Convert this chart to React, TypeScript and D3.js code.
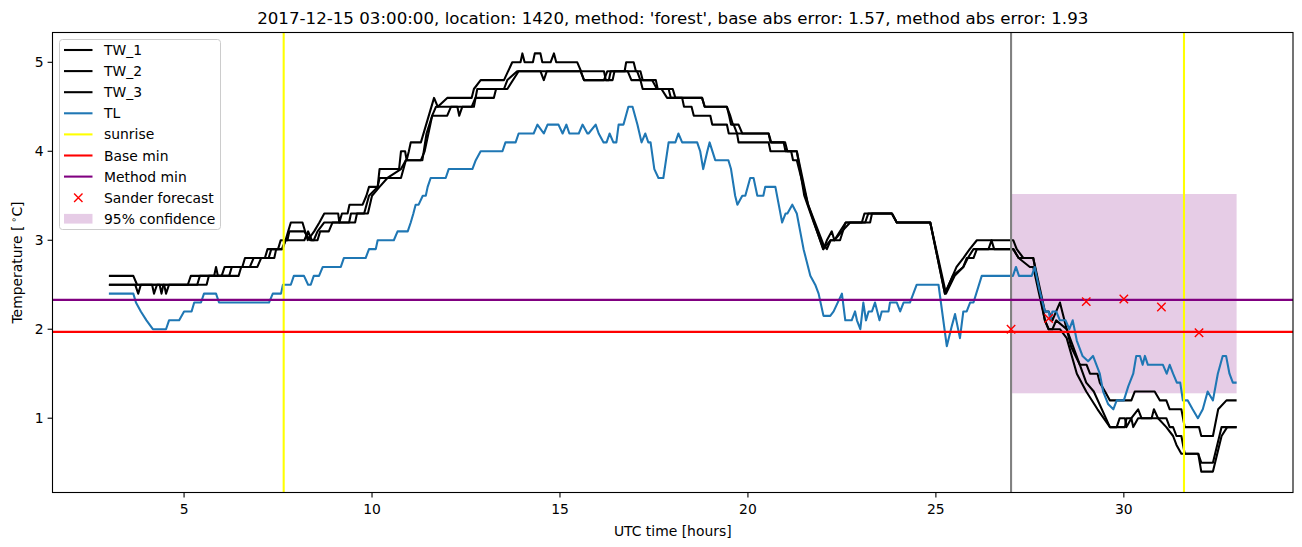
import React from 'react';
import * as d3 from 'd3';

const WIDTH = 1302;
const HEIGHT = 547;
const PLOT = { left: 52.5, right: 1293, top: 32.5, bottom: 492.5 };

const TITLE = "2017-12-15 03:00:00, location: 1420, method: 'forest', base abs error: 1.57, method abs error: 1.93";

const TW_1: [number, number][] = [
  [3.0, 2.6], [3.65, 2.6], [3.75, 2.5], [5.1, 2.5], [5.18, 2.6], [5.8, 2.6], [5.85, 2.7], [5.9, 2.6], [6.0, 2.6], [6.08, 2.7],
  [6.55, 2.7], [6.62, 2.8], [7.15, 2.8], [7.22, 2.9], [7.5, 2.9], [7.57, 3.0], [7.7, 3.0], [7.77, 3.1], [7.84, 3.2], [8.15, 3.2],
  [8.29, 3.0], [8.46, 3.1], [8.6, 3.2], [8.73, 3.3], [9.1, 3.3], [9.13, 3.2], [9.2, 3.3], [9.35, 3.3], [9.4, 3.4], [9.75, 3.4],
  [9.85, 3.5], [9.92, 3.6], [10.15, 3.6], [10.2, 3.8], [10.72, 3.8], [10.77, 4.0], [10.88, 4.0], [10.92, 3.9], [10.98, 4.0],
  [11.03, 4.1], [11.3, 4.1], [11.65, 4.6], [11.75, 4.5], [12.0, 4.6], [12.65, 4.6], [12.71, 4.7], [12.89, 4.8], [13.51, 4.8],
  [13.73, 5.0], [13.95, 5.0], [14.0, 5.1], [14.06, 5.0], [14.28, 5.0], [14.33, 5.1], [14.48, 5.1], [14.53, 5.0], [14.75, 5.0],
  [14.84, 5.1], [14.9, 5.0], [15.46, 5.0], [15.56, 4.9], [16.17, 4.9], [16.22, 4.8], [16.3, 4.8], [16.35, 4.9], [16.72, 4.9],
  [16.76, 5.0], [16.96, 5.0], [17.02, 4.9], [17.14, 4.9], [17.2, 4.8], [17.45, 4.8], [17.58, 4.7], [18.0, 4.7], [18.07, 4.6],
  [18.7, 4.6], [18.78, 4.6], [18.85, 4.5], [19.44, 4.5], [19.53, 4.4], [19.6, 4.3], [19.75, 4.3], [19.85, 4.2], [20.55, 4.2],
  [20.62, 4.1], [20.99, 4.1], [21.05, 4.0], [21.3, 4.0], [21.5, 3.5], [21.75, 3.2], [22.01, 2.9], [22.1, 3.0], [22.23, 3.1],
  [22.3, 3.0], [22.45, 3.1], [22.6, 3.2], [23.03, 3.2], [23.1, 3.3], [23.83, 3.3], [23.96, 3.2], [24.85, 3.2], [25.24, 2.4],
  [25.55, 2.7], [25.73, 2.8], [25.9, 2.9], [26.09, 3.0], [27.06, 3.0], [27.15, 2.9], [27.33, 2.8], [27.59, 2.8], [27.9, 2.2],
  [28.0, 2.2], [28.1, 2.1], [28.2, 2.2], [28.3, 2.3], [28.48, 2.0], [28.6, 1.8], [28.83, 1.6], [29.01, 1.6], [29.1, 1.5],
  [29.3, 1.5], [29.36, 1.4], [29.5, 1.3], [29.63, 1.2], [30.2, 1.2], [30.29, 1.3], [30.82, 1.3], [30.96, 1.2], [31.13, 1.2],
  [31.22, 1.1], [31.53, 1.1], [31.62, 0.9], [32.0, 0.9], [32.06, 0.8], [32.37, 0.8], [32.51, 1.1], [32.73, 1.2], [33.0, 1.2],
];

const TW_2: [number, number][] = [
  [3.0, 2.5], [3.7, 2.5], [3.78, 2.4], [3.85, 2.5], [4.15, 2.5], [4.2, 2.4], [4.28, 2.5], [4.47, 2.5], [4.52, 2.4], [4.6, 2.5],
  [5.35, 2.5], [5.42, 2.6], [6.2, 2.6], [6.27, 2.7], [6.75, 2.7], [6.85, 2.8], [7.25, 2.8], [7.32, 2.9], [7.6, 2.9], [7.7, 3.0],
  [7.75, 3.0], [7.8, 3.1], [8.2, 3.1], [8.35, 3.0], [8.45, 3.0], [8.55, 3.1], [8.73, 3.2], [9.39, 3.2], [9.44, 3.3], [9.79, 3.3],
  [9.92, 3.5], [10.15, 3.6], [10.2, 3.7], [10.41, 3.7], [10.77, 3.8], [10.9, 3.9], [11.3, 3.9], [11.4, 4.0], [11.6, 4.4],
  [11.7, 4.5], [12.27, 4.5], [12.32, 4.4], [12.4, 4.5], [12.71, 4.5], [12.8, 4.7], [13.51, 4.7], [13.6, 4.8], [13.86, 4.9],
  [14.48, 4.9], [14.57, 4.8], [14.65, 4.9], [15.55, 4.9], [15.64, 4.8], [16.17, 4.8], [16.26, 4.9], [17.05, 4.9], [17.14, 4.8],
  [17.55, 4.8], [17.6, 4.7], [17.89, 4.7], [17.95, 4.6], [18.25, 4.6], [18.3, 4.5], [18.5, 4.5], [18.56, 4.4], [19.0, 4.4],
  [19.05, 4.3], [19.44, 4.3], [19.49, 4.2], [19.71, 4.2], [19.75, 4.1], [20.55, 4.1], [20.6, 4.0], [21.15, 4.0], [21.2, 3.9],
  [21.3, 3.9], [21.6, 3.4], [22.0, 2.9], [22.2, 3.0], [22.3, 3.0], [22.5, 3.1], [22.72, 3.2], [23.12, 3.2], [23.2, 3.3],
  [23.83, 3.3], [23.96, 3.2], [24.85, 3.2], [25.24, 2.4], [25.45, 2.6], [25.73, 2.7], [25.82, 2.8], [26.0, 2.8], [26.09, 2.9],
  [26.4, 2.9], [26.48, 3.0], [26.55, 2.9], [27.06, 2.9], [27.2, 2.8], [27.5, 2.7], [27.59, 2.7], [27.9, 2.1], [28.0, 2.0],
  [28.1, 2.0], [28.2, 2.1], [28.48, 2.0], [28.83, 1.6], [29.0, 1.4], [29.2, 1.3], [29.63, 0.9], [29.81, 0.9], [29.89, 1.0],
  [30.03, 1.0], [30.07, 0.9], [30.2, 1.0], [30.38, 1.1], [30.47, 1.0], [30.74, 1.0], [30.8, 1.1], [30.91, 1.0], [31.13, 1.0],
  [31.22, 0.9], [31.31, 0.9], [31.4, 0.8], [31.53, 0.8], [31.62, 0.6], [31.98, 0.6], [32.06, 0.5], [32.37, 0.5], [32.6, 0.9],
  [33.0, 0.9],
];

const TW_3: [number, number][] = [
  [3.0, 2.5], [4.35, 2.5], [4.4, 2.4], [4.45, 2.5], [5.6, 2.5], [5.66, 2.6], [6.45, 2.6], [6.52, 2.7], [6.95, 2.7], [7.05, 2.8],
  [7.4, 2.8], [7.45, 2.9], [7.62, 2.9], [7.7, 3.0], [8.2, 3.0], [8.3, 3.1], [8.4, 3.0], [8.55, 3.0], [8.62, 3.1], [8.85, 3.1],
  [8.95, 3.2], [9.55, 3.2], [9.6, 3.3], [9.89, 3.3], [10.0, 3.5], [10.2, 3.6], [10.41, 3.7], [10.77, 3.7], [10.9, 3.9],
  [11.34, 3.9], [11.45, 4.2], [11.6, 4.4], [12.0, 4.4], [12.1, 4.5], [12.65, 4.5], [12.75, 4.6], [13.24, 4.6], [13.3, 4.7],
  [13.6, 4.7], [13.9, 4.9], [15.55, 4.9], [15.64, 4.8], [16.4, 4.8], [16.45, 4.9], [16.8, 4.9], [16.9, 4.8], [17.14, 4.8],
  [17.2, 4.7], [17.7, 4.7], [17.85, 4.6], [18.78, 4.6], [18.85, 4.5], [19.44, 4.5], [19.5, 4.4], [19.55, 4.3], [19.62, 4.3],
  [19.71, 4.2], [20.55, 4.2], [20.6, 4.1], [20.95, 4.1], [21.0, 4.0], [21.3, 4.0], [21.6, 3.4], [22.01, 2.95], [22.1, 2.9],
  [22.2, 3.0], [22.45, 3.0], [22.6, 3.2], [23.25, 3.2], [23.3, 3.3], [23.83, 3.3], [23.96, 3.2], [24.85, 3.2], [25.27, 2.4],
  [25.5, 2.6], [25.73, 2.7], [25.85, 2.8], [26.0, 2.9], [27.06, 2.9], [27.2, 2.8], [27.59, 2.8], [27.9, 2.1], [28.0, 2.0],
  [28.3, 2.0], [28.48, 1.9], [28.75, 1.5], [29.0, 1.3], [29.3, 1.1], [29.63, 0.9], [30.03, 0.9], [30.07, 1.0], [30.2, 1.0],
  [30.25, 0.9], [30.38, 1.0], [30.91, 1.0], [31.13, 0.9], [31.31, 0.8], [31.4, 0.7], [31.53, 0.6], [31.98, 0.6], [32.06, 0.4],
  [32.37, 0.4], [32.6, 0.8], [32.75, 0.9], [33.0, 0.9],
];

const TL: [number, number][] = [
  [3.0, 2.4], [3.65, 2.4], [3.72, 2.3], [3.85, 2.2], [4.0, 2.1], [4.17, 2.0], [4.52, 2.0], [4.6, 2.1], [4.87, 2.1], [5.0, 2.2],
  [5.2, 2.2], [5.27, 2.3], [5.45, 2.3], [5.53, 2.4], [5.85, 2.4], [5.93, 2.3], [7.26, 2.3], [7.36, 2.4], [7.58, 2.4], [7.63, 2.5],
  [7.84, 2.5], [7.92, 2.6], [8.19, 2.6], [8.3, 2.5], [8.37, 2.5], [8.45, 2.6], [8.59, 2.6], [8.69, 2.7], [9.17, 2.7], [9.25, 2.8],
  [9.83, 2.8], [9.92, 2.9], [10.1, 2.9], [10.15, 3.0], [10.58, 3.0], [10.68, 3.1], [10.95, 3.1], [11.03, 3.2], [11.1, 3.3],
  [11.16, 3.4], [11.24, 3.4], [11.35, 3.5], [11.43, 3.5], [11.48, 3.6], [11.56, 3.7], [11.96, 3.7], [12.04, 3.8], [12.67, 3.8],
  [12.76, 3.9], [12.89, 4.0], [13.47, 4.0], [13.55, 4.1], [13.82, 4.1], [13.9, 4.2], [14.3, 4.2], [14.4, 4.3], [14.57, 4.2],
  [14.67, 4.3], [14.96, 4.3], [15.07, 4.2], [15.17, 4.3], [15.25, 4.2], [15.5, 4.2], [15.6, 4.3], [15.73, 4.2], [15.76, 4.2],
  [15.95, 4.3], [16.03, 4.2], [16.16, 4.1], [16.24, 4.1], [16.32, 4.2], [16.42, 4.1], [16.5, 4.1], [16.56, 4.3], [16.69, 4.3],
  [16.82, 4.5], [16.93, 4.5], [17.06, 4.3], [17.17, 4.1], [17.27, 4.2], [17.35, 4.1], [17.41, 4.1], [17.51, 3.8], [17.62, 3.7],
  [17.75, 3.7], [17.89, 4.1], [18.07, 4.1], [18.15, 4.2], [18.25, 4.1], [18.65, 4.1], [18.73, 4.0], [18.81, 3.8], [18.92, 4.0],
  [18.98, 4.1], [19.13, 3.9], [19.48, 3.9], [19.55, 3.8], [19.66, 3.5], [19.72, 3.4], [19.85, 3.5], [19.93, 3.5], [20.06, 3.7],
  [20.15, 3.7], [20.25, 3.5], [20.41, 3.5], [20.46, 3.6], [20.73, 3.6], [20.91, 3.2], [21.0, 3.3], [21.05, 3.3], [21.18, 3.4],
  [21.3, 3.3], [21.48, 2.9], [21.66, 2.6], [21.79, 2.5], [21.88, 2.4], [22.01, 2.15], [22.19, 2.15], [22.28, 2.2], [22.5, 2.4],
  [22.59, 2.1], [22.76, 2.1], [22.85, 2.2], [22.9, 2.1], [22.99, 2.0], [23.07, 2.3], [23.14, 2.1], [23.21, 2.2], [23.3, 2.2],
  [23.38, 2.3], [23.5, 2.1], [23.56, 2.2], [23.74, 2.2], [23.78, 2.3], [23.96, 2.3], [24.05, 2.2], [24.14, 2.3], [24.31, 2.3],
  [24.49, 2.5], [25.07, 2.5], [25.29, 1.81], [25.42, 2.03], [25.51, 2.17], [25.64, 1.9], [25.73, 2.2], [25.82, 2.2], [25.91, 2.3],
  [26.0, 2.3], [26.22, 2.6], [27.05, 2.6], [27.13, 2.7], [27.21, 2.6], [27.55, 2.6], [27.63, 2.7], [27.75, 2.45], [27.9, 2.2],
  [28.0, 2.2], [28.05, 2.1], [28.1, 2.2], [28.2, 2.2], [28.3, 2.1], [28.45, 2.1], [28.55, 2.0], [28.64, 2.1], [28.75, 1.87],
  [28.9, 1.7], [29.05, 1.64], [29.18, 1.7], [29.36, 1.5], [29.45, 1.3], [29.58, 1.16], [29.72, 1.1], [29.81, 1.2], [30.0, 1.2],
  [30.12, 1.36], [30.25, 1.5], [30.33, 1.7], [30.43, 1.7], [30.5, 1.6], [30.56, 1.7], [30.64, 1.6], [31.04, 1.6], [31.14, 1.5],
  [31.22, 1.6], [31.31, 1.5], [31.41, 1.4], [31.5, 1.4], [31.57, 1.2], [31.7, 1.2], [31.83, 1.1], [31.97, 1.0], [32.1, 1.1],
  [32.23, 1.3], [32.37, 1.2], [32.5, 1.5], [32.63, 1.7], [32.72, 1.7], [32.81, 1.5], [32.9, 1.4], [33.0, 1.4],
];

const SANDER_HOURS = [27, 28, 29, 30, 31, 32];
const SANDER_VALUES = [2.0, 2.12, 2.31, 2.34, 2.25, 1.96];
const SUNRISE_HOURS = [7.65, 31.6];
const FORECAST_HOUR = 27;
const BASE_MIN = 1.97;
const METHOD_MIN = 2.33;
const CONF_HOURS = [27, 33];
const CONF_RANGE = [1.28, 3.52];
const X_TICKS = [5, 10, 15, 20, 25, 30];
const Y_TICKS = [1, 2, 3, 4, 5];
const X_DOMAIN = [1.5, 34.5];
const Y_DOMAIN = [0.165, 5.335];

const BLUE = '#1f77b4';
const FONT = '"DejaVu Sans", sans-serif';
const LW = 2.08;

const LEGEND_ITEMS = [
  { label: 'TW_1', kind: 'line', color: '#000000' },
  { label: 'TW_2', kind: 'line', color: '#000000' },
  { label: 'TW_3', kind: 'line', color: '#000000' },
  { label: 'TL', kind: 'line', color: BLUE },
  { label: 'sunrise', kind: 'line', color: '#ffff00' },
  { label: 'Base min', kind: 'line', color: '#ff0000' },
  { label: 'Method min', kind: 'line', color: '#800080' },
  { label: 'Sander forecast', kind: 'marker', color: '#ff0000' },
  { label: '95% confidence', kind: 'patch', color: '#800080' },
];

export default function App() {
  const x = d3.scaleLinear().domain(X_DOMAIN).range([PLOT.left, PLOT.right]);
  const y = d3.scaleLinear().domain(Y_DOMAIN).range([PLOT.bottom, PLOT.top]);
  const line = d3.line<[number, number]>().x(d => x(d[0])).y(d => y(d[1]));

  const series = [
    { data: TW_1, color: '#000000' },
    { data: TW_2, color: '#000000' },
    { data: TW_3, color: '#000000' },
    { data: TL, color: BLUE },
  ];

  const mk = 4.2;
  const fs = 13.9;
  const legX = 59.5, legY = 39.5, legW = 161, legH = 190;
  const rowY = (i: number) => 50 + i * 21.1;

  return (
    <svg width={WIDTH} height={HEIGHT} style={{ position: 'absolute', left: 0, top: 0, background: '#fff' }} fontFamily={FONT}>
      <rect x={0} y={0} width={WIDTH} height={HEIGHT} fill="#ffffff" />
      <defs>
        <clipPath id="plotclip">
          <rect x={PLOT.left} y={PLOT.top} width={PLOT.right - PLOT.left} height={PLOT.bottom - PLOT.top} />
        </clipPath>
      </defs>
      <g clipPath="url(#plotclip)">
        <rect x={x(CONF_HOURS[0])} y={y(CONF_RANGE[1])} width={x(CONF_HOURS[1]) - x(CONF_HOURS[0])}
          height={y(CONF_RANGE[0]) - y(CONF_RANGE[1])} fill="#800080" fillOpacity={0.2} />
        {series.map((s, i) => (
          <path key={i} d={line(s.data) || ''} fill="none" stroke={s.color} strokeWidth={LW} strokeLinejoin="round" strokeLinecap="butt" />
        ))}
        {SUNRISE_HOURS.map((h, i) => (
          <line key={i} x1={x(h)} x2={x(h)} y1={PLOT.top} y2={PLOT.bottom} stroke="#ffff00" strokeWidth={LW} />
        ))}
        <line x1={x(FORECAST_HOUR)} x2={x(FORECAST_HOUR)} y1={PLOT.top} y2={PLOT.bottom} stroke="#808080" strokeWidth={LW} />
        <line x1={PLOT.left} x2={PLOT.right} y1={y(BASE_MIN)} y2={y(BASE_MIN)} stroke="#ff0000" strokeWidth={LW} />
        <line x1={PLOT.left} x2={PLOT.right} y1={y(METHOD_MIN)} y2={y(METHOD_MIN)} stroke="#800080" strokeWidth={LW} />
        {SANDER_HOURS.map((h, i) => {
          const cx = x(h), cy = y(SANDER_VALUES[i]);
          return (
            <path key={i} d={`M${cx - mk},${cy - mk}L${cx + mk},${cy + mk}M${cx - mk},${cy + mk}L${cx + mk},${cy - mk}`}
              stroke="#ff0000" strokeWidth={1.4} fill="none" />
          );
        })}
      </g>
      {/* spines */}
      <rect x={PLOT.left} y={PLOT.top} width={PLOT.right - PLOT.left} height={PLOT.bottom - PLOT.top} fill="none" stroke="#000" strokeWidth={1.1} />
      {/* x ticks */}
      {X_TICKS.map(t => (
        <g key={t}>
          <line x1={x(t)} x2={x(t)} y1={PLOT.bottom} y2={PLOT.bottom + 4.9} stroke="#000" strokeWidth={1.1} />
          <text x={x(t)} y={PLOT.bottom + 21} textAnchor="middle" fontSize={fs} fill="#000">{t}</text>
        </g>
      ))}
      {Y_TICKS.map(t => (
        <g key={t}>
          <line x1={PLOT.left - 4.9} x2={PLOT.left} y1={y(t)} y2={y(t)} stroke="#000" strokeWidth={1.1} />
          <text x={PLOT.left - 9} y={y(t)} dy="0.36em" textAnchor="end" fontSize={fs} fill="#000">{t}</text>
        </g>
      ))}
      <text x={(PLOT.left + PLOT.right) / 2} y={536} textAnchor="middle" fontSize={fs} fill="#000">UTC time [hours]</text>
      <text transform={`translate(22,${(PLOT.top + PLOT.bottom) / 2}) rotate(-90)`} textAnchor="middle" fontSize={fs} fill="#000">
        Temperature [<tspan dx="3" dy="-5" fontSize={9.7}>∘</tspan><tspan dy="5">C]</tspan>
      </text>
      <text x={(PLOT.left + PLOT.right) / 2} y={24} textAnchor="middle" fontSize={16.67} fill="#000">{TITLE}</text>
      {/* legend */}
      <rect x={legX} y={legY} width={legW} height={legH} rx={3} ry={3} fill="#ffffff" fillOpacity={0.8} stroke="#cccccc" strokeWidth={1} />
      {LEGEND_ITEMS.map((it, i) => {
        const cy = rowY(i);
        return (
          <g key={it.label}>
            {it.kind === 'line' && <line x1={64} x2={92.5} y1={cy} y2={cy} stroke={it.color} strokeWidth={LW} />}
            {it.kind === 'marker' && (
              <path d={`M${78.3 - mk},${cy - mk}L${78.3 + mk},${cy + mk}M${78.3 - mk},${cy + mk}L${78.3 + mk},${cy - mk}`}
                stroke={it.color} strokeWidth={1.4} fill="none" />
            )}
            {it.kind === 'patch' && <rect x={64} y={cy - 4.9} width={28.5} height={9.7} fill={it.color} fillOpacity={0.2} />}
            <text x={104} y={cy} dy="0.36em" fontSize={fs} fill="#000">{it.label}</text>
          </g>
        );
      })}
    </svg>
  );
}
